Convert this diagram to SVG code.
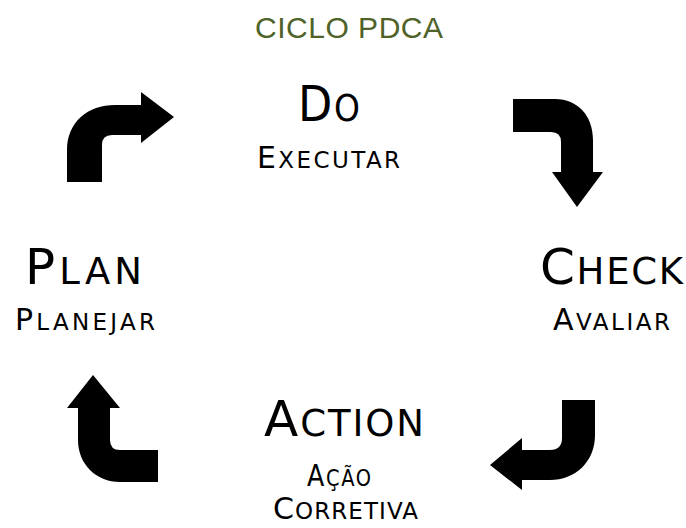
<svg xmlns="http://www.w3.org/2000/svg" width="686" height="528" viewBox="0 0 686 528">
<style>
.t{font-family:"DejaVu Sans","Liberation Sans",sans-serif;fill:#000}
.b{font-size:50px}
.bs{font-size:37px}
.s{font-size:30px}
.ss{font-size:23px}
.arrow{fill:#000;stroke:none}
.title{font-family:"Liberation Sans",Arial,sans-serif;font-size:30px;fill:#4f6228}
</style>
<rect width="686" height="528" fill="#fff"/>
<text class="title" x="255" y="38" textLength="188">CICLO PDCA</text>
<g id="do">
<text class="t" x="298" y="121" textLength="62" lengthAdjust="spacingAndGlyphs"><tspan class="b">D</tspan><tspan class="bs" dx="2">O</tspan></text>
<text class="t" x="257" y="168" textLength="143"><tspan class="s">E</tspan><tspan class="ss">XECUTAR</tspan></text>
</g>
<g id="plan">
<text class="t" x="25" y="284" textLength="117"><tspan class="b">P</tspan><tspan class="bs">LAN</tspan></text>
<text class="t" x="15" y="330" textLength="140"><tspan class="s">P</tspan><tspan class="ss">LANEJAR</tspan></text>
</g>
<g id="check">
<text class="t" x="540" y="284" textLength="143"><tspan class="b">C</tspan><tspan class="bs">HECK</tspan></text>
<text class="t" x="553" y="330" textLength="117"><tspan class="s">A</tspan><tspan class="ss">VALIAR</tspan></text>
</g>
<g id="action">
<text class="t" x="264" y="436" textLength="160"><tspan class="b">A</tspan><tspan class="bs">CTION</tspan></text>
<text class="t" x="307" y="486" textLength="64" lengthAdjust="spacingAndGlyphs"><tspan class="s">A</tspan><tspan class="ss" dx="2">Ç</tspan><tspan class="ss" dx="2">Ã</tspan><tspan class="ss" dx="2">O</tspan></text>
<text class="t" x="273" y="519" textLength="145"><tspan class="s">C</tspan><tspan class="ss">ORRETIVA</tspan></text>
</g>
<g id="connectors">
<path class="arrow" d="M67,182 L67,150 C67,122 88,105 115,105 L141,105 L141,92 L174,117 L141,143 L141,135 L112,135 Q102,135 102,145 L102,182 Z"/>
<path class="arrow" d="M513,99 L555,99 C578,99 593,116 593,140 L593,172 L603,172 L577,207 L552,172 L561,172 L561,142 Q561,132 551,132 L513,132 Z"/>
<path class="arrow" d="M562,400 L595,400 L595,435 C595,462 575,480 550,480 L522,480 L522,490 L490,465 L522,438 L522,450 L550,450 Q562,450 562,438 Z"/>
<path class="arrow" d="M93,375 L120,408 L110,408 L110,440 Q110,450 120,450 L158,450 L158,482 L120,482 C96,482 78,464 78,440 L78,408 L67,408 Z"/>
</g>
</svg>
